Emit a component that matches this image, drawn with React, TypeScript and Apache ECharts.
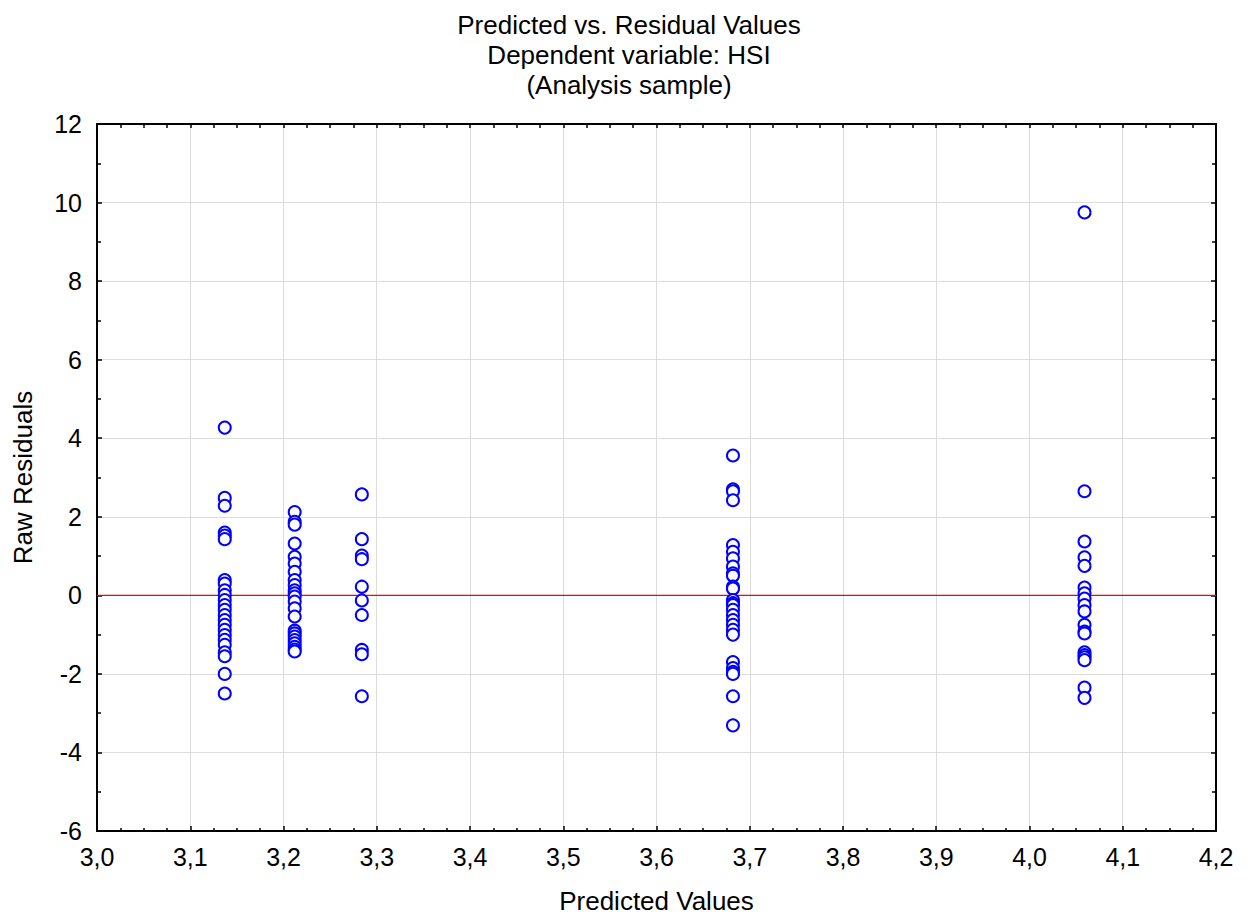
import React, { useEffect, useRef } from "react";
import * as echarts from "echarts";

const predicted = [3.137, 3.212, 3.284, 3.682, 4.059];
const residuals1 = [4.27, 2.48, 2.28, 1.6, 1.52, 1.43, 0.39, 0.3, 0.13, 0.01, -0.12, -0.25, -0.37, -0.5, -0.63, -0.75, -0.88, -1.01, -1.13, -1.26, -1.45, -1.55, -2.0, -2.5];
const residuals2 = [2.12, 1.87, 1.8, 1.32, 0.98, 0.81, 0.6, 0.39, 0.26, 0.13, 0.05, -0.03, -0.16, -0.33, -0.54, -0.9, -0.97, -1.05, -1.14, -1.22, -1.31, -1.38, -1.43];
const residuals3 = [2.57, 1.43, 1.01, 0.92, 0.22, -0.13, -0.5, -1.39, -1.5, -2.57];
const residuals4 = [3.56, 2.7, 2.65, 2.42, 1.28, 1.11, 0.94, 0.73, 0.56, 0.5, 0.22, 0.17, -0.12, -0.2, -0.25, -0.37, -0.5, -0.63, -0.75, -0.88, -1.0, -1.7, -1.85, -1.95, -2.0, -2.57, -3.31];
const residuals5 = [9.75, 2.65, 1.37, 0.97, 0.75, 0.2, 0.05, -0.08, -0.25, -0.41, -0.75, -0.92, -0.97, -1.45, -1.52, -1.58, -1.65, -2.35, -2.61];
const residualGroups = [residuals1, residuals2, residuals3, residuals4, residuals5];

const xRange = [3.0, 4.2];
const yRange = [-6, 12];
const zeroLineY = 0;

const titleLines = ["Predicted vs. Residual Values", "Dependent variable: HSI", "(Analysis sample)"];

export default function App() {
  const ref = useRef<HTMLDivElement>(null);
  useEffect(() => {
    if (!ref.current) return;
    const chart = echarts.init(ref.current, null, { renderer: "svg" });
    const data: number[][] = [];
    residualGroups.forEach((g, i) => g.forEach((r) => data.push([predicted[i], r])));
    const font = "Liberation Sans, Arial, sans-serif";
    const frameLine = { show: true, onZero: false, lineStyle: { color: "#000", width: 2 } };
    const fs = 26;
    const tfs = 25;
    chart.setOption({
      animation: false,
      backgroundColor: "#fff",
      textStyle: { fontFamily: font },
      title: {
        text: titleLines.join("\n"),
        left: 624,
        top: 5,
        textAlign: "center",
        textStyle: { fontSize: fs, fontWeight: "normal", color: "#000", lineHeight: 30, fontFamily: font },
      },
      grid: { left: 97, right: 32, top: 124, bottom: 87 },
      xAxis: [
        {
          type: "value",
          min: xRange[0],
          max: xRange[1],
          interval: 0.1,
          name: "Predicted Values",
          nameLocation: "middle",
          nameGap: 57,
          nameTextStyle: { fontSize: fs, color: "#000", fontFamily: font },
          axisLine: frameLine,
          axisTick: { show: true, inside: true, length: 5, lineStyle: { color: "#000", width: 1.5 } },
          minorTick: { show: true, splitNumber: 4, length: 3, lineStyle: { color: "#000", width: 1.5 } },
          axisLabel: {
            fontSize: tfs,
            color: "#000",
            margin: 13,
            fontFamily: font,
            formatter: (v: number) => v.toFixed(1).replace(".", ","),
          },
          splitLine: { show: true, lineStyle: { color: "#dcdcdc", width: 1 } },
        },
        {
          type: "value",
          position: "top",
          min: xRange[0],
          max: xRange[1],
          interval: 0.1,
          axisLine: frameLine,
          axisTick: { show: true, inside: true, length: 4, lineStyle: { color: "#000", width: 1.5 } },
          minorTick: { show: true, splitNumber: 4, length: 4, lineStyle: { color: "#000", width: 1.5 } },
          axisLabel: { show: false },
          splitLine: { show: false },
        },
      ],
      yAxis: [
        {
          type: "value",
          min: yRange[0],
          max: yRange[1],
          interval: 2,
          name: "Raw Residuals",
          nameLocation: "middle",
          nameGap: 61,
          nameTextStyle: { fontSize: fs, color: "#000", fontFamily: font },
          axisLine: frameLine,
          axisTick: { show: true, inside: true, length: 5, lineStyle: { color: "#000", width: 1.5 } },
          minorTick: { show: true, splitNumber: 2, length: 4, lineStyle: { color: "#000", width: 1.5 } },
          axisLabel: { fontSize: tfs, color: "#000", margin: 15, fontFamily: font },
          splitLine: { show: true, lineStyle: { color: "#dcdcdc", width: 1 } },
        },
        {
          type: "value",
          position: "right",
          min: yRange[0],
          max: yRange[1],
          interval: 2,
          axisLine: frameLine,
          axisTick: { show: true, inside: true, length: 5, lineStyle: { color: "#000", width: 1.5 } },
          minorTick: { show: true, splitNumber: 2, length: 4, lineStyle: { color: "#000", width: 1.5 } },
          axisLabel: { show: false },
          splitLine: { show: false },
        },
      ],
      series: [
        {
          type: "line",
          data: [
            [xRange[0], zeroLineY],
            [xRange[1], zeroLineY],
          ],
          showSymbol: false,
          symbol: "none",
          silent: true,
          z: 1,
          lineStyle: { color: "#ff0000", width: 1.3 },
        },
        {
          type: "scatter",
          data,
          symbol: "emptyCircle",
          symbolSize: 12,
          z: 3,
          itemStyle: { color: "#0000ff", borderColor: "#0000ff", borderWidth: 2, opacity: 1 },
        },
      ],
    });
    return () => chart.dispose();
  }, []);
  return (
    <div
      ref={ref}
      style={{ position: "absolute", left: 0, top: 0, width: 1248, height: 919 }}
    />
  );
}
